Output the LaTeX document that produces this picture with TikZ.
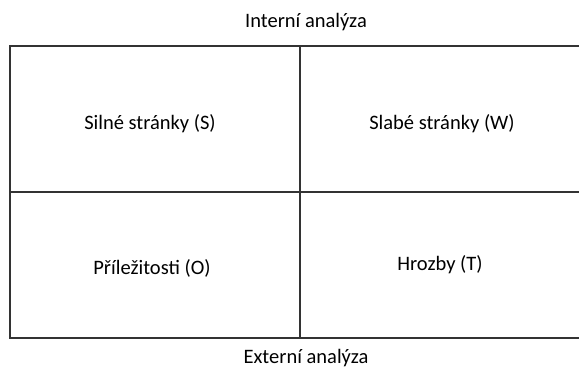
\documentclass[tikz,border=0pt]{standalone}
\usepackage{fontspec}
\setmainfont{Carlito}
\begin{document}
\begin{tikzpicture}[x=1pt,y=-1pt,
  gridline/.style={line width=2pt,draw=black!80},
  lbl/.style={font=\fontsize{20.5}{24}\selectfont,inner sep=0pt,text=black}]
\useasboundingbox (0,0) rectangle (579,369);
\coordinate (tl) at (10,46);
\coordinate (tr) at (579,46);
\coordinate (bl) at (10,338);
\coordinate (br) at (579,338);
\coordinate (ml) at (10,192);
\coordinate (mr) at (579,192);
\coordinate (mt) at (300,46);
\coordinate (mb) at (300,338);
\draw[gridline] (tr) -- (tl) -- (bl) -- (br);
\draw[gridline] (ml) -- (mr);
\draw[gridline] (mt) -- (mb);
\node[lbl] (int) at (306,22) {Interní analýza};
\node[lbl] (s) at (150,124) {Silné stránky (S)};
\node[lbl] (w) at (442,124) {Slabé stránky (W)};
\node[lbl] (o) at (152,268) {Příležitosti (O)};
\node[lbl] (t) at (440,265) {Hrozby (T)};
\node[lbl] (ext) at (306,358) {Externí analýza};
\end{tikzpicture}
\end{document}
